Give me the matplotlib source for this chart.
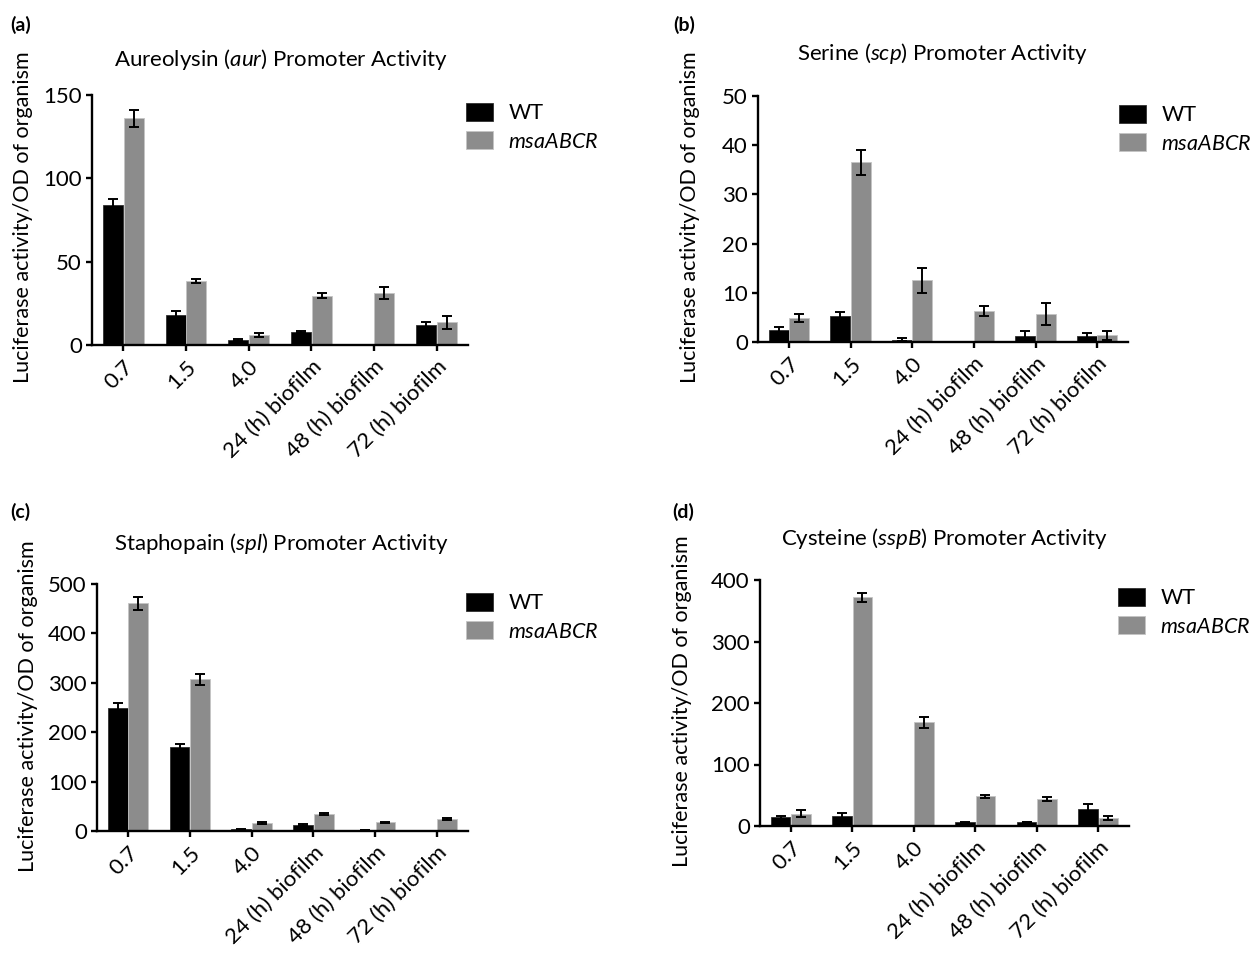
import numpy as np
import matplotlib
matplotlib.use('Agg')
import matplotlib.pyplot as plt

plt.rcParams['font.family'] = ['Lato', 'DejaVu Sans']
plt.rcParams['mathtext.fontset'] = 'custom'
plt.rcParams['mathtext.rm'] = 'Lato'
plt.rcParams['mathtext.it'] = 'Lato:italic'

categories = ['0.7', '1.5', '4.0', '24 (h) biofilm', '48 (h) biofilm', '72 (h) biofilm']
series_names = ['WT', r'$\mathit{msaABCR}$']

aur_wt = [84, 18, 3, 7.8, 0.5, 12]
aur_wt_err = [3.5, 2.5, 0.5, 0.8, 0, 1.8]
aur_mut = [136, 38.5, 6.2, 29.5, 31, 13.5]
aur_mut_err = [5, 1.2, 1.2, 1.5, 3.5, 3.8]

scp_wt = [2.5, 5.2, 0.5, 0, 1.2, 1.2]
scp_wt_err = [0.6, 0.8, 0.3, 0, 1.0, 0.7]
scp_mut = [4.8, 36.5, 12.5, 6.3, 5.7, 1.4]
scp_mut_err = [0.8, 2.5, 2.5, 1.1, 2.2, 0.9]

spl_wt = [250, 171, 3.4, 12, 2, 0]
spl_wt_err = [10, 6, 1, 2, 0.5, 0]
spl_mut = [461, 307, 15.5, 34, 17.6, 23.6]
spl_mut_err = [13, 11, 2, 2, 1.5, 2]

sspb_wt = [14, 17, 0, 6, 6.5, 27]
sspb_wt_err = [3, 4, 0, 0.5, 0.5, 8]
sspb_mut = [20, 372, 169, 48, 44, 13]
sspb_mut_err = [6, 7, 9, 2, 3.5, 4]

titles = [r'Aureolysin ($\mathit{aur}$) Promoter Activity',
          r'Serine ($\mathit{scp}$) Promoter Activity',
          r'Staphopain ($\mathit{spl}$) Promoter Activity',
          r'Cysteine ($\mathit{sspB}$) Promoter Activity']
panel_labels = ['(a)', '(b)', '(c)', '(d)']
y_maxes = [150, 50, 500, 400]
y_steps = [50, 10, 100, 100]

W, H = 1253, 963


def frac(x, y):
    return x / W, 1 - y / H


def plot_panel(fig, rect, legend_px, wt, wt_err, mut, mut_err, ymax, ystep):
    ax = fig.add_axes(rect)
    x = np.arange(len(categories))
    width = 0.32
    colors = ['black', '#8c8c8c']
    edges = ['#303030', '#c4c4c4']
    for off, vals, errs, c, ec, name in [(-0.165, wt, wt_err, colors[0], edges[0], series_names[0]),
                                         (0.165, mut, mut_err, colors[1], edges[1], series_names[1])]:
        ax.bar(x + off, vals, width, color=c, edgecolor=ec, linewidth=0.6,
               label=name, zorder=2)
        errs = np.array(errs, dtype=float)
        keep = errs > 0
        ax.errorbar((x + off)[keep], np.array(vals)[keep], yerr=errs[keep], fmt='none',
                    ecolor='black', elinewidth=1.4, capsize=3.5, capthick=1.4, zorder=3)
    ax.set_xlim(-0.5, 5.5)
    ax.set_ylim(0, ymax)
    ax.set_yticks(np.arange(0, ymax + 1, ystep))
    ax.set_xticks(x)
    ax.set_xticklabels(categories, rotation=45, ha='right', rotation_mode='anchor')
    for s in ['top', 'right']:
        ax.spines[s].set_visible(False)
    for s in ['left', 'bottom']:
        ax.spines[s].set_linewidth(1.7)
    ax.tick_params(axis='both', width=1.7, length=4.3, labelsize=16, pad=3)
    ax.tick_params(axis='x', pad=4)
    ax.patch.set_alpha(0)
    ax.legend(loc='upper left', bbox_to_anchor=frac(*legend_px),
              bbox_transform=fig.transFigure, frameon=False,
              fontsize=15.5, handlelength=1.25, handleheight=0.88, handletextpad=0.72,
              labelspacing=0.38, borderaxespad=0, borderpad=0)
    return ax


fig = plt.figure(figsize=(W / 100, H / 100), dpi=100)

# axes boxes in pixels: left, right, top, bottom
boxes = [(92, 468, 95, 345), (758, 1128, 96, 342), (97, 468, 584, 831), (760, 1129, 580, 826)]
data = [(aur_wt, aur_wt_err, aur_mut, aur_mut_err),
        (scp_wt, scp_wt_err, scp_mut, scp_mut_err),
        (spl_wt, spl_wt_err, spl_mut, spl_mut_err),
        (sspb_wt, sspb_wt_err, sspb_mut, sspb_mut_err)]
title_pos = [(281, 59), (943, 53), (281, 543), (945, 538)]
ylabel_pos = [(23, 217), (690, 217), (28, 706), (682, 701)]
label_pos = [(10, 25), (673, 25), (10, 512), (672, 512)]
legend_pos = [(466, 103), (1119, 105), (466, 593), (1118, 588)]

for i in range(4):
    l, r, t, b = boxes[i]
    rect = [l / W, 1 - b / H, (r - l) / W, (b - t) / H]
    plot_panel(fig, rect, legend_pos[i], *data[i], y_maxes[i], y_steps[i])
    fig.text(*frac(*title_pos[i]), titles[i], ha='center', va='center', fontsize=16)
    fig.text(*frac(*ylabel_pos[i]), 'Luciferase activity/OD of organism', rotation=90,
             ha='center', va='center', fontsize=15.5)
    fig.text(*frac(*label_pos[i]), panel_labels[i], ha='left', va='center',
             fontsize=14, fontweight='bold')

fig.savefig('out.png', dpi=100)
